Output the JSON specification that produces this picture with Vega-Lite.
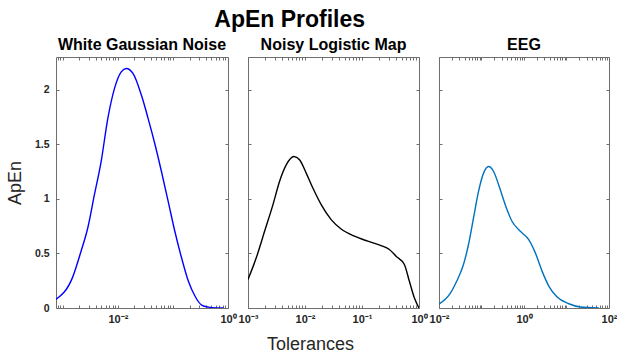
{
  "$schema": "https://vega.github.io/schema/vega-lite/v6.json",
  "padding": {"left": 5, "top": 9, "right": 2, "bottom": 0},
  "title": {"text": "ApEn Profiles", "fontSize": 23, "fontWeight": "bold", "font": "Liberation Sans", "color": "#000000", "anchor": "middle", "dx": -22, "offset": 4},
  "spacing": 20,
  "bounds": "flush",
  "hconcat": [
    {
      "width": 172, "height": 251,
      "title": {"text": "White Gaussian Noise"},
      "data": {"values": [
        {"t": 0.000746, "apen": 0.079}, {"t": 0.001507, "apen": 0.283}, {"t": 0.002138, "apen": 0.52},
        {"t": 0.002831, "apen": 0.733}, {"t": 0.003741, "apen": 1.038}, {"t": 0.004955, "apen": 1.342},
        {"t": 0.006561, "apen": 1.738}, {"t": 0.00867, "apen": 2.012}, {"t": 0.01148, "apen": 2.164},
        {"t": 0.01419, "apen": 2.195}, {"t": 0.01879, "apen": 2.149}, {"t": 0.02667, "apen": 1.951},
        {"t": 0.03532, "apen": 1.738}, {"t": 0.04656, "apen": 1.51}, {"t": 0.0618, "apen": 1.251},
        {"t": 0.08185, "apen": 0.977}, {"t": 0.1081, "apen": 0.703}, {"t": 0.1432, "apen": 0.46},
        {"t": 0.1901, "apen": 0.247}, {"t": 0.2506, "apen": 0.11}, {"t": 0.3319, "apen": 0.027},
        {"t": 0.4406, "apen": 0.008}, {"t": 0.631, "apen": 0.001}, {"t": 0.8279, "apen": 0.0}
      ]},
      "layer": [
        {
          "mark": {"type": "line", "color": "#0000FF", "strokeWidth": 1.4, "interpolate": "monotone", "clip": true},
          "encoding": {
            "x": {"field": "t", "type": "quantitative", "scale": {"type": "log", "domain": [0.00075, 1], "nice": false},
              "axis": {"orient": "bottom", "title": null,
                "values": [0.0008, 0.0009, 0.001, 0.002, 0.003, 0.004, 0.005, 0.006, 0.007, 0.008, 0.009, 0.01, 0.02, 0.03, 0.04, 0.05, 0.06, 0.07, 0.08, 0.09, 0.1, 0.2, 0.3, 0.4, 0.5, 0.6, 0.7, 0.8, 0.9, 1],
                "labelExpr": "datum.value == 0.01 ? '10⁻²' : datum.value == 1 ? '10⁰' : ''"}},
            "y": {"field": "apen", "type": "quantitative", "scale": {"domain": [0, 2.3], "nice": false},
              "axis": {"orient": "left", "values": [0, 0.5, 1, 1.5, 2], "format": "~g", "title": "ApEn", "labelPadding": 10, "titlePadding": 10}}
          }
        },
        {
          "mark": {"type": "line", "opacity": 0},
          "encoding": {
            "x": {"field": "t", "type": "quantitative",
              "axis": {"orient": "top", "title": null, "labels": false,
                "values": [0.0008, 0.0009, 0.001, 0.002, 0.003, 0.004, 0.005, 0.006, 0.007, 0.008, 0.009, 0.01, 0.02, 0.03, 0.04, 0.05, 0.06, 0.07, 0.08, 0.09, 0.1, 0.2, 0.3, 0.4, 0.5, 0.6, 0.7, 0.8, 0.9, 1]}},
            "y": {"field": "apen", "type": "quantitative",
              "axis": {"orient": "right", "values": [0, 0.5, 1, 1.5, 2], "labels": false, "title": null}}
          }
        }
      ],
      "resolve": {"axis": {"x": "independent", "y": "independent"}}
    },
    {
      "width": 171, "height": 251,
      "title": {"text": "Noisy Logistic Map"},
      "data": {"values": [
        {"t": 0.001, "apen": 0.262}, {"t": 0.001396, "apen": 0.46}, {"t": 0.001954, "apen": 0.703},
        {"t": 0.002742, "apen": 0.947}, {"t": 0.003573, "apen": 1.16}, {"t": 0.004688, "apen": 1.312},
        {"t": 0.006397, "apen": 1.388}, {"t": 0.008017, "apen": 1.358}, {"t": 0.0105, "apen": 1.236},
        {"t": 0.01374, "apen": 1.099}, {"t": 0.01923, "apen": 0.947}, {"t": 0.02877, "apen": 0.81},
        {"t": 0.04305, "apen": 0.724}, {"t": 0.07362, "apen": 0.658}, {"t": 0.1265, "apen": 0.612},
        {"t": 0.2158, "apen": 0.572}, {"t": 0.302, "apen": 0.536}, {"t": 0.3954, "apen": 0.475},
        {"t": 0.5534, "apen": 0.399}, {"t": 0.6761, "apen": 0.247}, {"t": 0.8279, "apen": 0.094},
        {"t": 1, "apen": 0.0}
      ]},
      "layer": [
        {
          "mark": {"type": "line", "color": "#000000", "strokeWidth": 1.4, "interpolate": "monotone", "clip": true},
          "encoding": {
            "x": {"field": "t", "type": "quantitative", "scale": {"type": "log", "domain": [0.001, 1], "nice": false},
              "axis": {"orient": "bottom", "title": "Tolerances", "titleX": 62, "titlePadding": 11,
                "values": [0.001, 0.002, 0.003, 0.004, 0.005, 0.006, 0.007, 0.008, 0.009, 0.01, 0.02, 0.03, 0.04, 0.05, 0.06, 0.07, 0.08, 0.09, 0.1, 0.2, 0.3, 0.4, 0.5, 0.6, 0.7, 0.8, 0.9, 1],
                "labelExpr": "datum.value == 0.001 ? '10⁻³' : datum.value == 0.01 ? '10⁻²' : datum.value == 0.1 ? '10⁻¹' : datum.value == 1 ? '10⁰' : ''"}},
            "y": {"field": "apen", "type": "quantitative", "scale": {"domain": [0, 2.3], "nice": false},
              "axis": {"orient": "left", "values": [0, 0.5, 1, 1.5, 2], "labels": false, "title": null}}
          }
        },
        {
          "mark": {"type": "line", "opacity": 0},
          "encoding": {
            "x": {"field": "t", "type": "quantitative",
              "axis": {"orient": "top", "title": null, "labels": false,
                "values": [0.001, 0.002, 0.003, 0.004, 0.005, 0.006, 0.007, 0.008, 0.009, 0.01, 0.02, 0.03, 0.04, 0.05, 0.06, 0.07, 0.08, 0.09, 0.1, 0.2, 0.3, 0.4, 0.5, 0.6, 0.7, 0.8, 0.9, 1]}},
            "y": {"field": "apen", "type": "quantitative",
              "axis": {"orient": "right", "values": [0, 0.5, 1, 1.5, 2], "labels": false, "title": null}}
          }
        }
      ],
      "resolve": {"axis": {"x": "independent", "y": "independent"}}
    },
    {
      "width": 170, "height": 251,
      "title": {"text": "EEG"},
      "data": {"values": [
        {"t": 0.01, "apen": 0.036}, {"t": 0.0182, "apen": 0.131}, {"t": 0.02618, "apen": 0.247},
        {"t": 0.03767, "apen": 0.399}, {"t": 0.04943, "apen": 0.582}, {"t": 0.06486, "apen": 0.825},
        {"t": 0.08511, "apen": 1.068}, {"t": 0.1117, "apen": 1.236}, {"t": 0.1466, "apen": 1.297},
        {"t": 0.1928, "apen": 1.251}, {"t": 0.2529, "apen": 1.13}, {"t": 0.3614, "apen": 0.947},
        {"t": 0.5212, "apen": 0.795}, {"t": 0.8185, "apen": 0.703}, {"t": 1.291, "apen": 0.627},
        {"t": 1.849, "apen": 0.505}, {"t": 2.661, "apen": 0.338}, {"t": 3.828, "apen": 0.201},
        {"t": 6.012, "apen": 0.1}, {"t": 11.35, "apen": 0.039}, {"t": 21.33, "apen": 0.009},
        {"t": 58.08, "apen": 0.0}
      ]},
      "layer": [
        {
          "mark": {"type": "line", "color": "#0072BD", "strokeWidth": 1.4, "interpolate": "monotone", "clip": true},
          "encoding": {
            "x": {"field": "t", "type": "quantitative", "scale": {"type": "log", "domain": [0.01, 100], "nice": false},
              "axis": {"orient": "bottom", "title": null,
                "values": [0.01, 0.02, 0.03, 0.04, 0.05, 0.06, 0.07, 0.08, 0.09, 0.1, 0.2, 0.3, 0.4, 0.5, 0.6, 0.7, 0.8, 0.9, 1, 2, 3, 4, 5, 6, 7, 8, 9, 10, 20, 30, 40, 50, 60, 70, 80, 90, 100],
                "labelExpr": "datum.value == 0.01 ? '10⁻²' : datum.value == 1 ? '10⁰' : datum.value == 100 ? '10²' : ''"}},
            "y": {"field": "apen", "type": "quantitative", "scale": {"domain": [0, 2.3], "nice": false},
              "axis": {"orient": "left", "values": [0, 0.5, 1, 1.5, 2], "labels": false, "title": null}}
          }
        },
        {
          "mark": {"type": "line", "opacity": 0},
          "encoding": {
            "x": {"field": "t", "type": "quantitative",
              "axis": {"orient": "top", "title": null, "labels": false,
                "values": [0.01, 0.02, 0.03, 0.04, 0.05, 0.06, 0.07, 0.08, 0.09, 0.1, 0.2, 0.3, 0.4, 0.5, 0.6, 0.7, 0.8, 0.9, 1, 2, 3, 4, 5, 6, 7, 8, 9, 10, 20, 30, 40, 50, 60, 70, 80, 90, 100]}},
            "y": {"field": "apen", "type": "quantitative",
              "axis": {"orient": "right", "values": [0, 0.5, 1, 1.5, 2], "labels": false, "title": null}}
          }
        }
      ],
      "resolve": {"axis": {"x": "independent", "y": "independent"}}
    }
  ],
  "config": {
    "font": "Liberation Sans",
    "view": {"stroke": "#6e6e6e", "strokeWidth": 1},
    "axis": {"domain": false, "grid": false, "tickSize": -3, "tickColor": "#6e6e6e", "tickWidth": 1,
      "labelFont": "Liberation Sans", "labelFontWeight": "bold", "labelFontSize": 10.5, "labelColor": "#262626",
      "labelPadding": 6, "labelOverlap": false, "labelFlush": false,
      "titleFont": "Liberation Sans", "titleFontWeight": "normal", "titleFontSize": 18, "titleColor": "#262626", "titlePadding": 14},
    "axisBottom": {"labelFontSize": 11, "labelPadding": 8},
    "title": {"font": "Liberation Sans", "fontSize": 16, "fontWeight": "bold", "color": "#000000", "offset": 4}
  }
}
